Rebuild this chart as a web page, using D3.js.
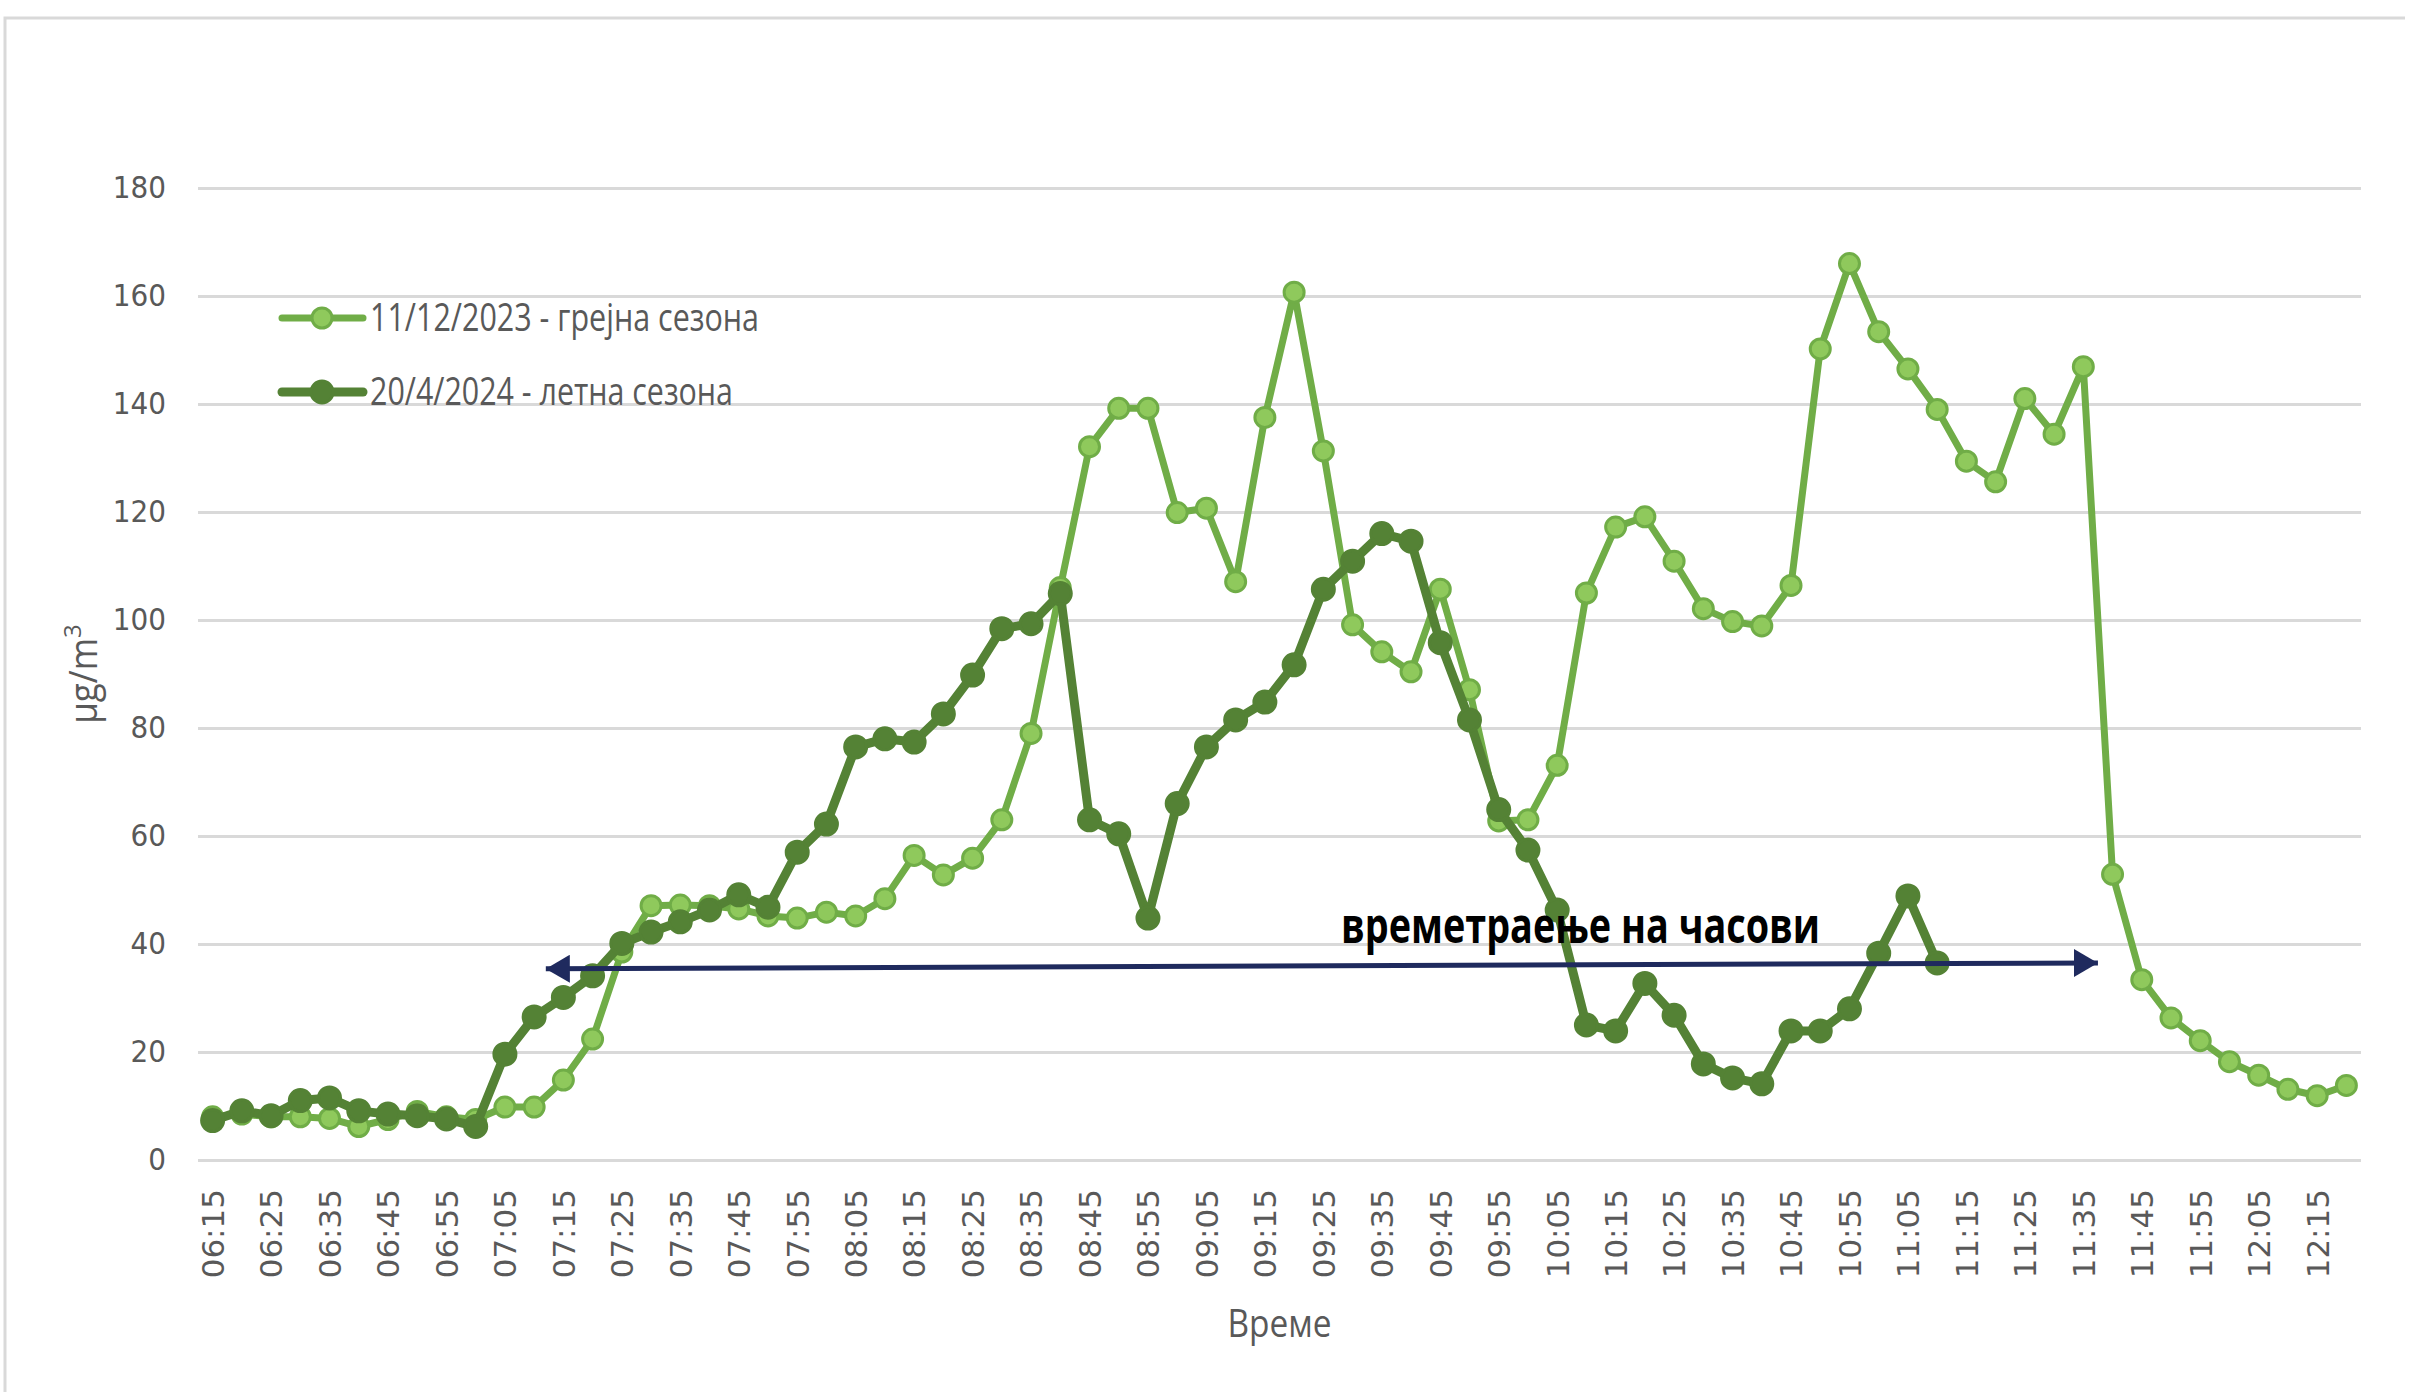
<!DOCTYPE html>
<html>
<head>
<meta charset="utf-8">
<script src="https://cdn.jsdelivr.net/npm/d3@7"></script>
<style>
  body { margin: 0; background: #fff; }
  #my_dataviz { width: 2428px; height: 1392px; }
</style>
</head>
<body>
<div id="my_dataviz"></div>
<script>
// categories, one every 5 minutes
const times = ['06:15','06:20','06:25','06:30','06:35','06:40','06:45','06:50','06:55','07:00',
  '07:05','07:10','07:15','07:20','07:25','07:30','07:35','07:40','07:45','07:50',
  '07:55','08:00','08:05','08:10','08:15','08:20','08:25','08:30','08:35','08:40',
  '08:45','08:50','08:55','09:00','09:05','09:10','09:15','09:20','09:25','09:30',
  '09:35','09:40','09:45','09:50','09:55','10:00','10:05','10:10','10:15','10:20',
  '10:25','10:30','10:35','10:40','10:45','10:50','10:55','11:00','11:05','11:10',
  '11:15','11:20','11:25','11:30','11:35','11:40','11:45','11:50','11:55','12:00',
  '12:05','12:10','12:15','12:20'];

// 11/12/2023 - heating season
const heating = [8, 8.5, 8, 8, 7.7, 6.2, 7.5, 9, 8, 7.5,
  9.8, 9.8, 14.8, 22.4, 38.5, 47.1, 47.2, 47.1, 46.5, 45.2,
  44.8, 45.9, 45.2, 48.4, 56.4, 52.8, 55.9, 63, 79, 106,
  132.1, 139.2, 139.2, 119.9, 120.7, 107.1, 137.5, 160.7, 131.3, 99.1,
  94.1, 90.4, 105.7, 87.1, 62.8, 63, 73.1, 105, 117.2, 119.1,
  110.9, 102.1, 99.7, 98.9, 106.4, 150.2, 166, 153.4, 146.5, 139,
  129.4, 125.6, 141, 134.4, 146.9, 52.9, 33.4, 26.3, 22.1, 18.2,
  15.7, 13.1, 11.9, 13.8];

// 20/4/2024 - summer season (ends at 11:10)
const summer = [7.3, 9.1, 8.2, 11, 11.5, 9.1, 8.5, 8.2, 7.6, 6.2,
  19.6, 26.5, 30.1, 34.1, 40.1, 42.2, 44.1, 46.3, 49.1, 46.8,
  57, 62.2, 76.5, 78, 77.4, 82.6, 89.8, 98.4, 99.3, 104.9,
  63, 60.4, 44.8, 66, 76.5, 81.5, 84.8, 91.7, 105.7, 110.9,
  116, 114.6, 95.8, 81.5, 64.9, 57.4, 46.3, 25, 23.9, 32.7,
  26.8, 17.8, 15.2, 14.1, 23.9, 23.9, 28, 38.3, 48.9, 36.5];

const yTicks = [0, 20, 40, 60, 80, 100, 120, 140, 160, 180];
const seriesNames = ['11/12/2023 - грејна сезона', '20/4/2024 - летна сезона'];

// duration arrow, in [category index, value]
const arrowFrom = [11.4, 35.4];
const arrowTo = [64.5, 36.5];
const arrowLabel = 'времетраење на часови';
const arrowLabelAt = [46.8, 40.2];

const w = 2428, h = 1392;
const margin = { top: 188, right: 67, bottom: 232, left: 198 },
    width = w - margin.left - margin.right,
    height = h - margin.top - margin.bottom;

const light = '#70ad47', lightFill = '#8fc95c', dark = '#548235';
const labelFont = '"Liberation Sans Narrow", "Open Sans", sans-serif';

const root = d3.select('#my_dataviz')
    .append('svg')
    .attr('width', w)
    .attr('height', h);

// chart frame (top and left edge only)
root.append('path')
    .attr('d', `M5,${h} V18 H2405`)
    .attr('fill', 'none')
    .attr('stroke', '#d9d9d9')
    .attr('stroke-width', 3);

const svg = root.append('g')
    .attr('transform', `translate(${margin.left}, ${margin.top})`);

const x = d3.scaleLinear()
    .domain([-0.5, times.length - 0.5])
    .range([0, width]);

const y = d3.scaleLinear()
    .domain([0, 180])
    .range([height, 0]);

// gridlines + y labels
const yAxis = svg.append('g')
    .call(d3.axisLeft(y).tickValues(yTicks).tickSize(-width).tickPadding(32));
yAxis.select('.domain').remove();
yAxis.selectAll('line').attr('stroke', '#d9d9d9').attr('stroke-width', 3);
yAxis.selectAll('text')
    .attr('fill', '#595959')
    .style('font-family', '"DejaVu Sans Condensed", "DejaVu Sans", sans-serif')
    .style('font-size', '31px');

// x labels, every other category
const xAxis = svg.append('g')
    .attr('transform', `translate(0, ${height})`)
    .call(d3.axisBottom(x)
        .tickValues(d3.range(0, times.length, 2))
        .tickFormat(i => times[i])
        .tickSize(0));
xAxis.select('.domain').remove();
xAxis.selectAll('text')
    .attr('fill', '#595959')
    .attr('transform', 'rotate(-90)')
    .attr('text-anchor', 'end')
    .attr('x', -29)
    .attr('y', 0)
    .attr('dy', '0.35em')
    .style('font-family', '"DejaVu Sans", sans-serif')
    .style('font-size', '31px');

// axis titles (squeezed to the narrow face of the original)
svg.append('text')
    .attr('x', width / 2)
    .attr('y', height + 177)
    .attr('text-anchor', 'middle')
    .attr('fill', '#595959')
    .attr('textLength', 104)
    .attr('lengthAdjust', 'spacingAndGlyphs')
    .style('font-family', labelFont)
    .style('font-size', '38px')
    .text('Време');

const yTitle = svg.append('text')
    .attr('transform', `translate(-101, ${height / 2}) rotate(-90)`)
    .attr('text-anchor', 'middle')
    .attr('fill', '#595959')
    .style('font-family', labelFont)
    .style('font-size', '38px');
yTitle.append('tspan').attr('textLength', 86).attr('lengthAdjust', 'spacingAndGlyphs').text('µg/m');
yTitle.append('tspan').attr('baseline-shift', 'super').style('font-size', '24px').text('3');

// series
const series = [
    { name: seriesNames[0], values: heating, stroke: light, fill: lightFill, lw: 7, r: 10, tl: 389 },
    { name: seriesNames[1], values: summer, stroke: dark, fill: dark, lw: 9, r: 11, tl: 363 }
];

const line = d3.line()
    .defined(d => d != null)
    .x((d, i) => x(i))
    .y(d => y(d));

series.forEach(s => {
    svg.append('path')
        .datum(s.values)
        .attr('fill', 'none')
        .attr('stroke', s.stroke)
        .attr('stroke-width', s.lw)
        .attr('stroke-linejoin', 'round')
        .attr('d', line);

    svg.selectAll(null)
        .data(s.values)
        .enter()
        .append('circle')
        .attr('cx', (d, i) => x(i))
        .attr('cy', d => y(d))
        .attr('r', s.r)
        .attr('fill', s.fill)
        .attr('stroke', s.stroke)
        .attr('stroke-width', 3);
});

// duration arrow
const defs = root.append('defs');
['start', 'end'].forEach(k => {
    defs.append('marker')
        .attr('id', 'arrow-' + k)
        .attr('markerUnits', 'userSpaceOnUse')
        .attr('viewBox', '0 0 24 28')
        .attr('refX', k === 'end' ? 24 : 0)
        .attr('refY', 14)
        .attr('markerWidth', 24)
        .attr('markerHeight', 28)
        .attr('orient', 'auto')
        .append('path')
        .attr('d', k === 'end' ? 'M0,0 L24,14 L0,28 Z' : 'M24,0 L0,14 L24,28 Z')
        .attr('fill', '#1f2a5e');
});

svg.append('line')
    .attr('x1', x(arrowFrom[0]))
    .attr('y1', y(arrowFrom[1]))
    .attr('x2', x(arrowTo[0]))
    .attr('y2', y(arrowTo[1]))
    .attr('stroke', '#1f2a5e')
    .attr('stroke-width', 5)
    .attr('marker-start', 'url(#arrow-start)')
    .attr('marker-end', 'url(#arrow-end)');

svg.append('text')
    .attr('x', x(arrowLabelAt[0]))
    .attr('y', y(arrowLabelAt[1]))
    .attr('text-anchor', 'middle')
    .attr('fill', '#000')
    .attr('textLength', 479)
    .attr('lengthAdjust', 'spacingAndGlyphs')
    .style('font-family', labelFont)
    .style('font-weight', 'bold')
    .style('font-size', '50px')
    .text(arrowLabel);

// legend
const legend = root.append('g');
series.forEach((s, i) => {
    const g = legend.append('g').attr('transform', `translate(282, ${318 + i * 74})`);
    g.append('line')
        .attr('x1', 0).attr('x2', 81)
        .attr('stroke', s.stroke)
        .attr('stroke-width', s.lw)
        .attr('stroke-linecap', 'round');
    g.append('circle')
        .attr('cx', 40)
        .attr('r', s.r)
        .attr('fill', s.fill)
        .attr('stroke', s.stroke)
        .attr('stroke-width', 3);
    g.append('text')
        .attr('x', 88)
        .attr('dy', '0.35em')
        .attr('fill', '#595959')
        .attr('textLength', s.tl)
        .attr('lengthAdjust', 'spacingAndGlyphs')
        .style('font-family', labelFont)
        .style('font-size', '38px')
        .text(s.name);
});
</script>
</body>
</html>
